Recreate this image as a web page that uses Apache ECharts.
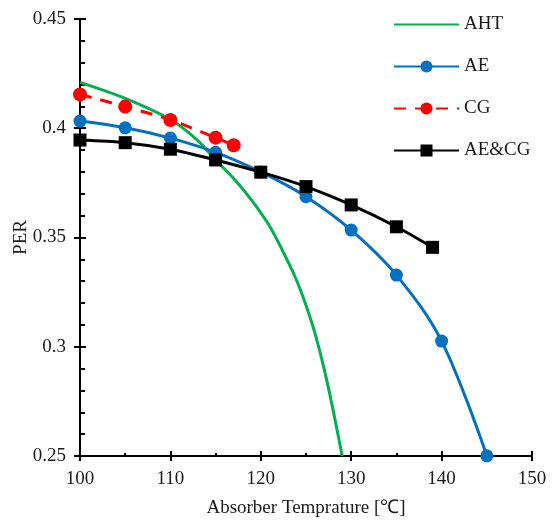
<!DOCTYPE html>
<html>
<head>
<meta charset="utf-8">
<script src="https://cdn.jsdelivr.net/npm/echarts@6/dist/echarts.min.js"></script>
<style>html,body{margin:0;padding:0;background:#fff}#c{width:553px;height:521px}</style>
</head>
<body>
<div id="c"></div>
<script>
// Series data
var ahtX = [100, 105, 110, 113, 115, 117, 119, 121, 123, 124, 125, 126, 127, 128, 129];
var ahtY = [0.421, 0.4137, 0.404, 0.3945, 0.3855, 0.377, 0.367, 0.355, 0.339, 0.330, 0.319, 0.306, 0.290, 0.271, 0.250];
var aeX = [100, 105, 110, 115, 120, 125, 130, 135, 140, 145];
var aeY = [0.4033, 0.4002, 0.3955, 0.3890, 0.3800, 0.3687, 0.3534, 0.3328, 0.3026, 0.2501];
var cgX = [100, 105, 110, 115, 117];
var cgY = [0.4155, 0.4099, 0.4038, 0.3957, 0.3922];
var aecgX = [100, 105, 110, 115, 120, 125, 130, 135, 139];
var aecgY = [0.3946, 0.3934, 0.3904, 0.3855, 0.3799, 0.3733, 0.3649, 0.3549, 0.3455];
var seriesNames = ['AHT', 'AE', 'CG', 'AE&CG'];
var xName = 'Absorber Temprature [\u2103]';
var yName = 'PER';

function pairs(xs, ys) { return xs.map(function (x, i) { return [x, ys[i]]; }); }

var FONT = 'Liberation Serif';
var chart = echarts.init(document.getElementById('c'));
var axisLine = { show: true, lineStyle: { color: '#000', width: 2 } };
chart.setOption({
  animation: false,
  backgroundColor: '#fff',
  grid: { left: 80, right: 21, top: 19, bottom: 65, containLabel: false, outerBoundsMode: 'none' },
  legend: {
    orient: 'vertical',
    left: 388,
    top: 10,
    itemWidth: 65,
    itemHeight: 15,
    itemGap: 23,
    textStyle: { fontFamily: FONT, fontSize: 19, color: '#1a1a1a' },
    data: [{ name: seriesNames[0], itemStyle: { opacity: 0 } }, seriesNames[1], seriesNames[2], seriesNames[3]]
  },
  xAxis: [{
    type: 'value', min: 100, max: 150, interval: 10, position: 'bottom',
    name: xName, nameLocation: 'middle', nameGap: 43, nameMoveOverlap: false,
    nameTextStyle: { fontFamily: FONT, fontSize: 19, color: '#1a1a1a' },
    axisLine: axisLine,
    axisTick: { show: true, inside: true, length: 5, lineStyle: { color: '#000', width: 2 } },
    minorTick: { show: true, splitNumber: 2, length: 3, lineStyle: { color: '#000', width: 2 } },
    axisLabel: { fontFamily: FONT, fontSize: 19, color: '#1a1a1a', margin: 14 },
    splitLine: { show: false }
  }, {
    type: 'value', min: 100, max: 150, interval: 10, position: 'bottom',
    axisLine: { show: false },
    axisTick: { show: true, inside: false, length: 5, lineStyle: { color: '#000', width: 2 } },
    axisLabel: { show: false },
    splitLine: { show: false }
  }],
  yAxis: [{
    type: 'value', min: 0.25, max: 0.45, interval: 0.05, position: 'left',
    name: yName, nameLocation: 'middle', nameGap: 49, nameRotate: 90, nameMoveOverlap: false,
    nameTextStyle: { fontFamily: FONT, fontSize: 19, color: '#1a1a1a' },
    axisLine: axisLine,
    axisTick: { show: true, inside: false, length: 6, lineStyle: { color: '#000', width: 2 } },
    axisLabel: { fontFamily: FONT, fontSize: 19, color: '#1a1a1a', margin: 14 },
    splitLine: { show: false }
  }, {
    type: 'value', min: 0.25, max: 0.45, interval: 0.05, position: 'left',
    axisLine: { show: false },
    axisTick: { show: true, inside: true, length: 6, lineStyle: { color: '#000', width: 2 } },
    minorTick: { show: true, splitNumber: 5, length: 5, lineStyle: { color: '#000', width: 2 } },
    axisLabel: { show: false },
    splitLine: { show: false }
  }],
  series: [{
    name: seriesNames[0], type: 'line', smooth: 0.3, showSymbol: false, symbol: 'circle',
    data: pairs(ahtX, ahtY), color: '#00b050',
    lineStyle: { color: '#00b050', width: 3 }, z: 2
  }, {
    name: seriesNames[1], type: 'line', smooth: 0.35, symbol: 'circle', symbolSize: 13,
    data: pairs(aeX, aeY), color: '#0070c0',
    lineStyle: { color: '#0070c0', width: 3 }, itemStyle: { color: '#0070c0' }, z: 3
  }, {
    name: seriesNames[2], type: 'line', smooth: 0.3, symbol: 'circle', symbolSize: 14,
    data: pairs(cgX, cgY), color: '#ff0000',
    lineStyle: { color: '#ff0000', width: 3, type: [12, 9] }, itemStyle: { color: '#ff0000' }, z: 4
  }, {
    name: seriesNames[3], type: 'line', smooth: 0.3, symbol: 'rect', symbolSize: 13,
    data: pairs(aecgX, aecgY), color: '#000',
    lineStyle: { color: '#000', width: 3 }, itemStyle: { color: '#000' }, z: 5
  }]
});
</script>
</body>
</html>
